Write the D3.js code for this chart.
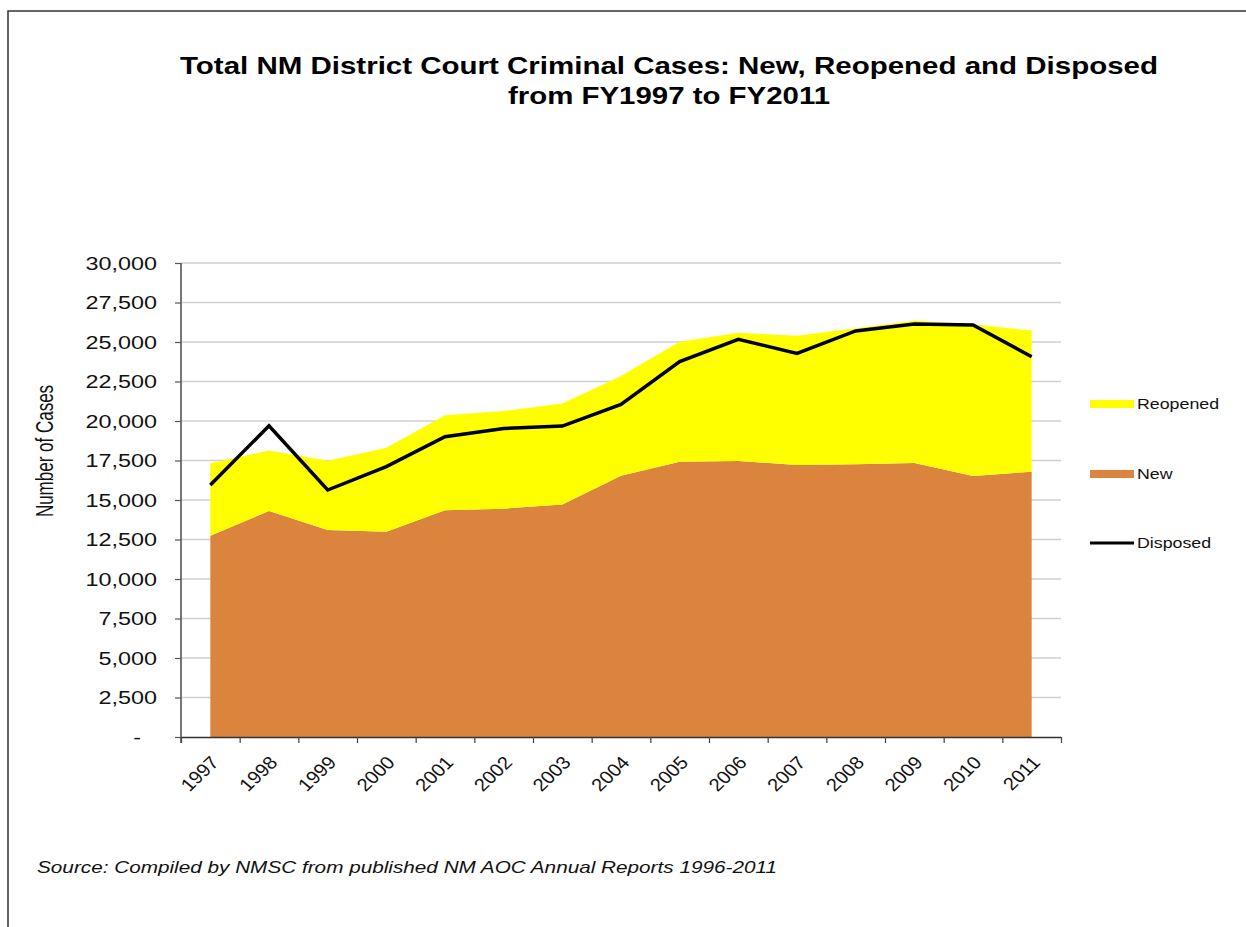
<!DOCTYPE html>
<html>
<head>
<meta charset="utf-8">
<script src="https://cdn.jsdelivr.net/npm/d3@7"></script>
<style>
  html, body { margin: 0; padding: 0; background: #fff; }
  svg { display: block; font-family: "Liberation Sans", Arial, sans-serif; }
</style>
</head>
<body>
<svg id="chart" width="1246" height="927"></svg>
<script>
// ---- data ----
const years = ["1997","1998","1999","2000","2001","2002","2003","2004","2005","2006","2007","2008","2009","2010","2011"];
const newCases = [12740,14300,13100,12990,14350,14450,14720,16540,17420,17470,17220,17260,17340,16520,16790];
const reopenedCases = [4580,3840,4390,5320,6010,6180,6380,6310,7600,8120,8180,8610,9010,9600,8930];
const disposedCases = [15950,19700,15630,17110,19010,19530,19680,21050,23760,25170,24280,25700,26140,26080,24070];
const yTickValues = [0,2500,5000,7500,10000,12500,15000,17500,20000,22500,25000,27500,30000];
const seriesNames = ["Reopened","New","Disposed"];
const titleLines = ["Total NM District Court Criminal Cases: New, Reopened and Disposed","from FY1997 to FY2011"];
const yAxisTitle = "Number of Cases";
const sourceText = "Source: Compiled by NMSC from published  NM AOC Annual Reports 1996-2011";

// ---- layout ----
const W = 1246, H = 927;
const plot = { left: 181, right: 1061, top: 263, bottom: 737 };
const colors = { New: "#DB843D", Reopened: "#FFFF00", Disposed: "#000000" };
const sx = 1.3; // horizontal text stretch

const svg = d3.select("#chart");

// frame
svg.append("path")
  .attr("d", `M8,${H} L8,11 L${W},11`)
  .attr("fill", "none").attr("stroke", "#333").attr("stroke-width", 1.5);

// title
const titleG = svg.append("g");
titleG.append("text").attr("x", 180).attr("y", 74)
  .attr("font-size", 24).attr("font-weight", "bold")
  .attr("textLength", 978).attr("lengthAdjust", "spacingAndGlyphs")
  .text(titleLines[0]);
titleG.append("text").attr("x", 508).attr("y", 104)
  .attr("font-size", 24).attr("font-weight", "bold")
  .attr("textLength", 322).attr("lengthAdjust", "spacingAndGlyphs")
  .text(titleLines[1]);

// scales
const x = d3.scalePoint().domain(years).range([plot.left, plot.right]).padding(0.5);
const xEdge = d3.scaleLinear().domain([0, years.length]).range([plot.left, plot.right]);
const y = d3.scaleLinear().domain([0, 30000]).range([plot.bottom, plot.top]);

// gridlines
svg.append("g")
  .selectAll("line").data(yTickValues.filter(v => v > 0)).join("line")
  .attr("x1", plot.left).attr("x2", plot.right)
  .attr("y1", d => y(d)).attr("y2", d => y(d))
  .attr("stroke", "#d0d0d0").attr("stroke-width", 1.5);

// stacked areas
const rows = years.map((yr, i) => ({ year: yr, New: newCases[i], Reopened: reopenedCases[i] }));
const stack = d3.stack().keys(["New", "Reopened"]);
const stacked = stack(rows);
const area = d3.area()
  .x(d => x(d.data.year))
  .y0(d => y(d[0]))
  .y1(d => y(d[1]));
svg.append("g").selectAll("path").data(stacked).join("path")
  .attr("d", area)
  .attr("fill", d => colors[d.key]);

// disposed line
const line = d3.line().x((d, i) => x(years[i])).y(d => y(d));
svg.append("path").datum(disposedCases)
  .attr("d", line)
  .attr("fill", "none").attr("stroke", colors.Disposed)
  .attr("stroke-width", 3.5).attr("stroke-linejoin", "miter");

// y axis
const yAxisG = svg.append("g").attr("transform", `translate(${plot.left},0)`)
  .call(d3.axisLeft(y).tickValues(yTickValues).tickSize(6).tickSizeOuter(0)
    .tickFormat(d => d === 0 ? "-" : d3.format(",")(d)));
yAxisG.select(".domain").attr("stroke", "#777").attr("stroke-width", 2)
  .attr("d", `M0,${plot.top}V${plot.bottom + 6}`);
yAxisG.selectAll(".tick line").attr("stroke", "#555").attr("stroke-width", 1.2);
yAxisG.selectAll(".tick text")
  .attr("x", 0).attr("dy", "0.36em")
  .attr("font-size", 18).attr("fill", "#111")
  .attr("font-family", "Liberation Sans, Arial, sans-serif")
  .attr("text-anchor", "end")
  .attr("transform", d => d === 0 ? `translate(-40,0) scale(${sx},1)` : `translate(-24,0) scale(${sx},1)`);

// x axis: edges ticks
const xEdgeAxis = svg.append("g").attr("transform", `translate(0,${plot.bottom})`)
  .call(d3.axisBottom(xEdge).tickValues(d3.range(0, years.length + 1)).tickSize(6).tickSizeOuter(0).tickFormat(""));
xEdgeAxis.select(".domain").attr("stroke", "#333").attr("stroke-width", 1.5);
xEdgeAxis.selectAll(".tick line").attr("stroke", "#444").attr("stroke-width", 1.2);

// x axis labels
const xLabelAxis = svg.append("g").attr("transform", `translate(0,${plot.bottom})`)
  .call(d3.axisBottom(x).tickSize(0));
xLabelAxis.select(".domain").remove();
xLabelAxis.selectAll(".tick text")
  .attr("x", 0).attr("y", 0).attr("dy", "0.35em")
  .attr("font-size", 18).attr("fill", "#111")
  .attr("font-family", "Liberation Sans, Arial, sans-serif")
  .attr("text-anchor", "end")
  .attr("transform", `translate(4,22) scale(1.12,1) rotate(-47)`);

// y axis title
svg.append("text")
  .attr("transform", `translate(53,451) scale(1.4,1) rotate(-90)`)
  .attr("text-anchor", "middle")
  .attr("font-size", 17).attr("fill", "#111")
  .text(yAxisTitle);

// legend
const legendY = { Reopened: 404, New: 474, Disposed: 543 };
const lg = svg.append("g");
seriesNames.forEach(name => {
  const cy = legendY[name];
  if (name === "Disposed") {
    lg.append("line").attr("x1", 1090).attr("x2", 1134).attr("y1", cy).attr("y2", cy)
      .attr("stroke", colors[name]).attr("stroke-width", 3);
  } else {
    lg.append("rect").attr("x", 1090).attr("y", cy - 4).attr("width", 44).attr("height", 8)
      .attr("fill", colors[name]);
  }
  lg.append("text")
    .attr("transform", `translate(1137,${cy + 5}) scale(1.27,1)`)
    .attr("font-size", 14).attr("fill", "#111")
    .text(name);
});

// source
svg.append("text").attr("x", 37).attr("y", 873)
  .attr("font-size", 17).attr("font-style", "italic").attr("fill", "#111")
  .attr("textLength", 740).attr("lengthAdjust", "spacingAndGlyphs")
  .text(sourceText);
</script>
</body>
</html>
